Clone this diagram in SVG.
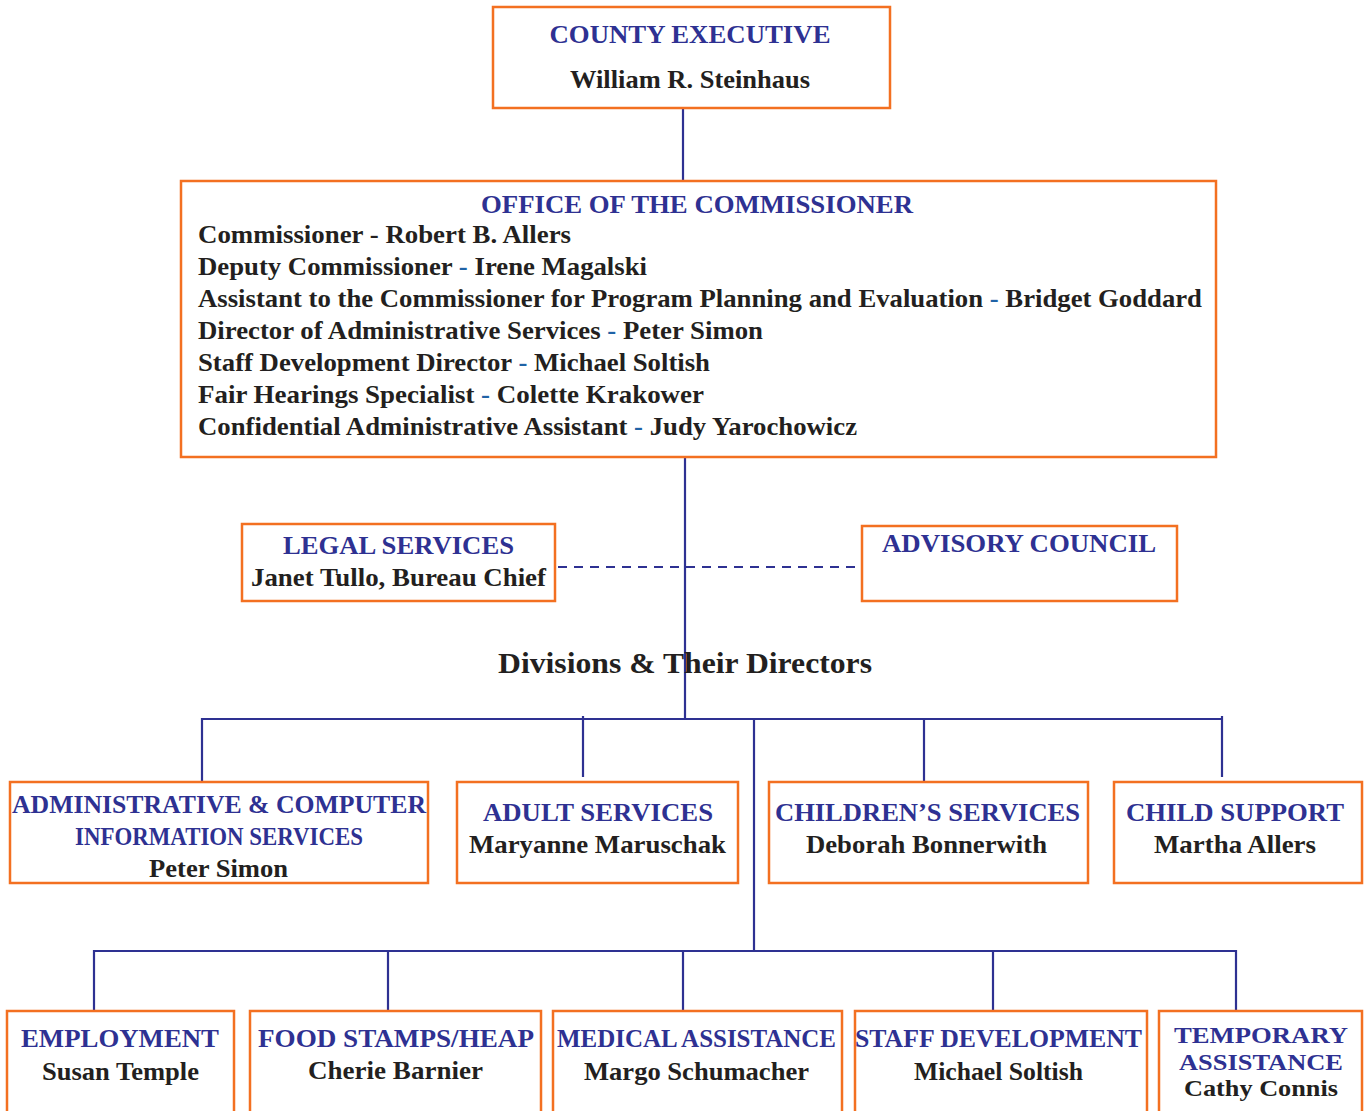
<svg xmlns="http://www.w3.org/2000/svg" width="1364" height="1111" viewBox="0 0 1364 1111">
<style>
.box{fill:#fff;stroke:#f37021;stroke-width:2.5}
.t{font-family:"Liberation Serif","Times New Roman",serif;font-weight:bold;font-size:26px;text-anchor:middle}
.ti{fill:#2e3192}
.nm{fill:#231f20}
.sm{font-size:23px}
.l{font-family:"Liberation Serif","Times New Roman",serif;font-weight:bold;font-size:26px;fill:#231f20}
.d{fill:#1f63a6}
.conn{stroke:#2e3192;stroke-width:2.2;fill:none}
.dash{stroke:#2e3192;stroke-width:2;fill:none;stroke-dasharray:9 7}
</style>
<rect width="1364" height="1111" fill="#fff"/>
<g id="connectors">
<line class="conn" x1="683" y1="108" x2="683" y2="181"/>
<line class="conn" x1="685" y1="457" x2="685" y2="719"/>
<line class="dash" x1="558" y1="567" x2="858" y2="567"/>
<line class="conn" x1="202" y1="719" x2="1223" y2="719"/>
<line class="conn" x1="202" y1="718" x2="202" y2="781"/>
<line class="conn" x1="583" y1="716" x2="583" y2="777"/>
<line class="conn" x1="924" y1="719" x2="924" y2="781"/>
<line class="conn" x1="1222" y1="716" x2="1222" y2="777"/>
<line class="conn" x1="754" y1="719" x2="754" y2="951"/>
<line class="conn" x1="93" y1="951" x2="1237" y2="951"/>
<line class="conn" x1="94" y1="950" x2="94" y2="1011"/>
<line class="conn" x1="388" y1="950" x2="388" y2="1011"/>
<line class="conn" x1="683" y1="950" x2="683" y2="1011"/>
<line class="conn" x1="993" y1="950" x2="993" y2="1011"/>
<line class="conn" x1="1236" y1="950" x2="1236" y2="1011"/>
</g>
<g id="county-executive">
<rect class="box" x="493" y="7" width="397" height="101"/>
<text class="t ti" x="690" y="43" textLength="281" lengthAdjust="spacingAndGlyphs">COUNTY EXECUTIVE</text>
<text class="t nm" x="690" y="88" textLength="240" lengthAdjust="spacingAndGlyphs">William R. Steinhaus</text>
</g>
<g id="office-commissioner">
<rect class="box" x="181" y="181" width="1035" height="276"/>
<text class="t ti" x="697" y="213" textLength="432" lengthAdjust="spacingAndGlyphs">OFFICE OF THE COMMISSIONER</text>
<text class="l" x="198" y="243" textLength="373" lengthAdjust="spacingAndGlyphs">Commissioner - Robert B. Allers</text>
<text class="l" x="198" y="275" textLength="449" lengthAdjust="spacingAndGlyphs">Deputy Commissioner <tspan class="d">-</tspan> Irene Magalski</text>
<text class="l" x="198" y="307" textLength="1004" lengthAdjust="spacingAndGlyphs">Assistant to the Commissioner for Program Planning and Evaluation <tspan class="d">-</tspan> Bridget Goddard</text>
<text class="l" x="198" y="339" textLength="565" lengthAdjust="spacingAndGlyphs">Director of Administrative Services <tspan class="d">-</tspan> Peter Simon</text>
<text class="l" x="198" y="371" textLength="512" lengthAdjust="spacingAndGlyphs">Staff Development Director <tspan class="d">-</tspan> Michael Soltish</text>
<text class="l" x="198" y="403" textLength="506" lengthAdjust="spacingAndGlyphs">Fair Hearings Specialist <tspan class="d">-</tspan> Colette Krakower</text>
<text class="l" x="198" y="435" textLength="659" lengthAdjust="spacingAndGlyphs">Confidential Administrative Assistant <tspan class="d">-</tspan> Judy Yarochowicz</text>
</g>
<g id="legal-services">
<rect class="box" x="242" y="524" width="313" height="77"/>
<text class="t ti" x="398.5" y="554" textLength="231" lengthAdjust="spacingAndGlyphs">LEGAL SERVICES</text>
<text class="t nm" x="398.5" y="586" textLength="295" lengthAdjust="spacingAndGlyphs">Janet Tullo, Bureau Chief</text>
</g>
<g id="advisory-council">
<rect class="box" x="862" y="526" width="315" height="75"/>
<text class="t ti" x="1019" y="552" textLength="274" lengthAdjust="spacingAndGlyphs">ADVISORY COUNCIL</text>
</g>
<g id="divisions-heading">
<text class="t nm" x="685" y="673" style="font-size:29px" textLength="374" lengthAdjust="spacingAndGlyphs">Divisions &amp; Their Directors</text>
</g>
<g id="admin-computer">
<rect class="box" x="10" y="782" width="418" height="101"/>
<text class="t ti" x="219" y="813" textLength="414" lengthAdjust="spacingAndGlyphs">ADMINISTRATIVE &amp; COMPUTER</text>
<text class="t ti" x="219" y="845" textLength="288" lengthAdjust="spacingAndGlyphs">INFORMATION SERVICES</text>
<text class="t nm" x="218.5" y="877" textLength="139" lengthAdjust="spacingAndGlyphs">Peter Simon</text>
</g>
<g id="adult-services">
<rect class="box" x="457" y="782" width="281" height="101"/>
<text class="t ti" x="598" y="821" textLength="230" lengthAdjust="spacingAndGlyphs">ADULT SERVICES</text>
<text class="t nm" x="597.5" y="853" textLength="257" lengthAdjust="spacingAndGlyphs">Maryanne Maruschak</text>
</g>
<g id="childrens-services">
<rect class="box" x="769" y="782" width="319" height="101"/>
<text class="t ti" x="927.5" y="821" textLength="305" lengthAdjust="spacingAndGlyphs">CHILDREN’S SERVICES</text>
<text class="t nm" x="926.5" y="853" textLength="241" lengthAdjust="spacingAndGlyphs">Deborah Bonnerwith</text>
</g>
<g id="child-support">
<rect class="box" x="1114" y="782" width="248" height="101"/>
<text class="t ti" x="1235" y="821" textLength="218" lengthAdjust="spacingAndGlyphs">CHILD SUPPORT</text>
<text class="t nm" x="1235" y="853" textLength="162" lengthAdjust="spacingAndGlyphs">Martha Allers</text>
</g>
<g id="employment">
<rect class="box" x="7" y="1011" width="227" height="110"/>
<text class="t ti" x="120" y="1047" textLength="198" lengthAdjust="spacingAndGlyphs">EMPLOYMENT</text>
<text class="t nm" x="120.5" y="1080" textLength="157" lengthAdjust="spacingAndGlyphs">Susan Temple</text>
</g>
<g id="food-stamps">
<rect class="box" x="250" y="1011" width="291" height="110"/>
<text class="t ti" x="396" y="1047" textLength="276" lengthAdjust="spacingAndGlyphs">FOOD STAMPS/HEAP</text>
<text class="t nm" x="395.5" y="1079" textLength="175" lengthAdjust="spacingAndGlyphs">Cherie Barnier</text>
</g>
<g id="medical-assistance">
<rect class="box" x="553" y="1011" width="289" height="110"/>
<text class="t ti" x="696.5" y="1047" textLength="279" lengthAdjust="spacingAndGlyphs">MEDICAL ASSISTANCE</text>
<text class="t nm" x="696.5" y="1080" textLength="225" lengthAdjust="spacingAndGlyphs">Margo Schumacher</text>
</g>
<g id="staff-development">
<rect class="box" x="855" y="1011" width="292" height="110"/>
<text class="t ti" x="998.5" y="1047" textLength="287" lengthAdjust="spacingAndGlyphs">STAFF DEVELOPMENT</text>
<text class="t nm" x="998.5" y="1080" textLength="169" lengthAdjust="spacingAndGlyphs">Michael Soltish</text>
</g>
<g id="temporary-assistance">
<rect class="box" x="1159" y="1011" width="203" height="110"/>
<text class="t ti sm" x="1261" y="1043" textLength="174" lengthAdjust="spacingAndGlyphs">TEMPORARY</text>
<text class="t ti sm" x="1261" y="1070" textLength="164" lengthAdjust="spacingAndGlyphs">ASSISTANCE</text>
<text class="t nm sm" x="1261" y="1096" textLength="154" lengthAdjust="spacingAndGlyphs">Cathy Connis</text>
</g>
</svg>
